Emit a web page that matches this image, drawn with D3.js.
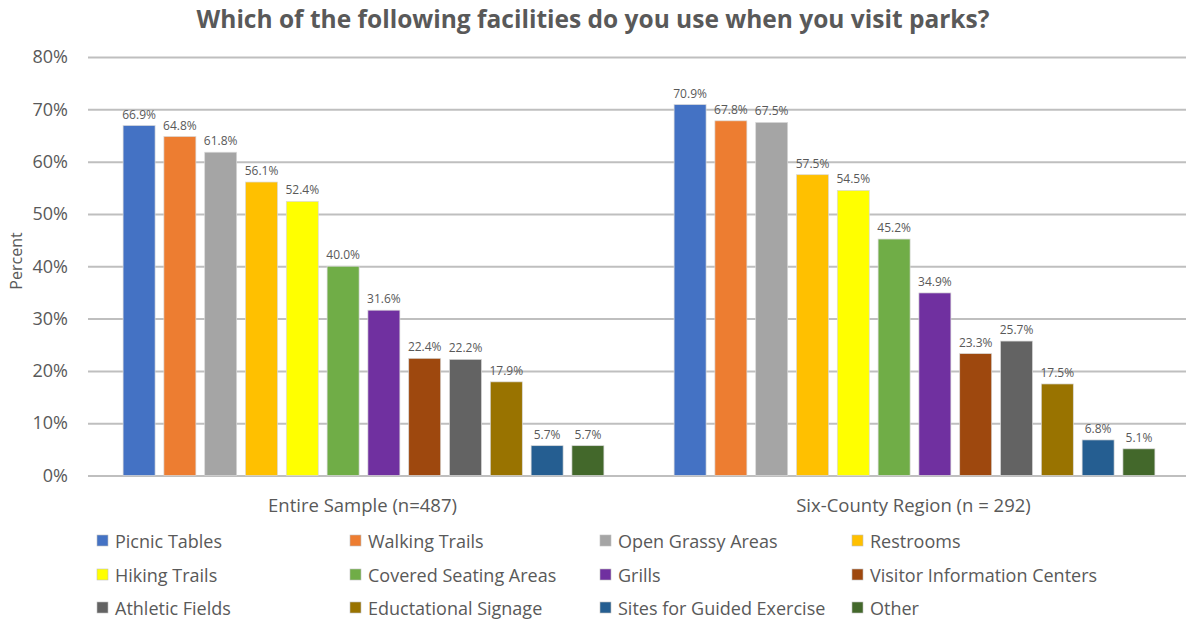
<!DOCTYPE html>
<html>
<head>
<meta charset="utf-8">
<script src="https://cdn.jsdelivr.net/npm/d3@7"></script>
<style>
	body { margin: 0; background: #fff; }
	svg { display: block; font-family: 'Open Sans', 'Noto Sans', sans-serif; }
</style>
</head>
<body>
<div id="chart"></div>
<script>
// chart values
var groups = ['Entire Sample (n=487)', 'Six-County Region (n = 292)'];
var facilities = ['Picnic Tables', 'Walking Trails', 'Open Grassy Areas', 'Restrooms',
	'Hiking Trails', 'Covered Seating Areas', 'Grills', 'Visitor Information Centers',
	'Athletic Fields', 'Eductational Signage', 'Sites for Guided Exercise', 'Other'];
var entireSample = [66.9, 64.8, 61.8, 56.1, 52.4, 40.0, 31.6, 22.4, 22.2, 17.9, 5.7, 5.7];
var sixCounty = [70.9, 67.8, 67.5, 57.5, 54.5, 45.2, 34.9, 23.3, 25.7, 17.5, 6.8, 5.1];
var yTicks = [0, 10, 20, 30, 40, 50, 60, 70, 80];
var colors = ['#4472c4', '#ed7d31', '#a5a5a5', '#ffc000', '#ffff00', '#70ad47',
	'#7030a0', '#9e480e', '#636363', '#997300', '#255e91', '#43682b'];

var fmt = {
	width: 1186,
	height: 621,
	left: 88,
	right: 1190,	// plot area runs past the picture edge, as in the source
	top: 57,
	bottom: 475.5,
	clr_text: '#595959',
	clr_grid: '#bfbfbf'
};

var series = [entireSample, sixCounty];

var svg = d3.select('#chart').append('svg')
	.attr('width', fmt.width)
	.attr('height', fmt.height);

var x0 = d3.scaleBand()
	.domain(groups)
	.range([fmt.left, fmt.right]);
var x1 = d3.scaleBand()
	.domain(facilities)
	.range([0, x0.bandwidth()])
	.paddingInner(0.216)
	.paddingOuter(0.86);
var y = d3.scaleLinear()
	.domain([0, 80])
	.range([fmt.bottom, fmt.top]);
var color = d3.scaleOrdinal().domain(facilities).range(colors);

// title
svg.append('text')
	.attr('x', 593)
	.attr('y', 28)
	.attr('text-anchor', 'middle')
	.style('font-size', '24.5px')
	.style('font-weight', 'bold')
	.style('fill', fmt.clr_text)
	.text('Which of the following facilities do you use when you visit parks?');

// grid + y axis
var yAxis = svg.append('g')
	.attr('class', 'y axis')
	.attr('transform', `translate(${fmt.left},0)`)
	.call(d3.axisLeft(y)
		.tickValues(yTicks)
		.tickSize(-(fmt.right - fmt.left))
		.tickPadding(20)
		.tickFormat(function(d) { return d + '%'; }));
yAxis.select('.domain').remove();
yAxis.selectAll('line')
	.attr('stroke', fmt.clr_grid)
	.attr('stroke-width', 2);
yAxis.selectAll('text')
	.style('font-size', '18px')
	.style('fill', fmt.clr_text)
	.style('font-family', "'Open Sans', sans-serif");

// y title
svg.append('text')
	.attr('transform', 'translate(22,261) rotate(-90)')
	.attr('text-anchor', 'middle')
	.style('font-size', '16px')
	.style('fill', fmt.clr_text)
	.text('Percent');

// bars
var grp = svg.selectAll('g.grp')
	.data(groups)
	.enter().append('g')
	.attr('class', 'grp')
	.attr('transform', function(d) { return `translate(${x0(d)},0)`; });

grp.selectAll('rect')
	.data(function(d, i) {
		return facilities.map(function(f, j) { return {name: f, value: series[i][j]}; });
	})
	.enter().append('rect')
	.attr('x', function(d) { return x1(d.name); })
	.attr('y', function(d) { return y(d.value); })
	.attr('width', x1.bandwidth())
	.attr('height', function(d) { return y(0) - y(d.value); })
	.attr('fill', function(d) { return color(d.name); })
	.attr('stroke', '#d9d9d9')
	.attr('stroke-width', 0.7);

grp.selectAll('text.val')
	.data(function(d, i) {
		return facilities.map(function(f, j) { return {name: f, value: series[i][j]}; });
	})
	.enter().append('text')
	.attr('class', 'val')
	.attr('x', function(d) { return x1(d.name) + x1.bandwidth() / 2; })
	.attr('y', function(d) { return y(d.value) - 7; })
	.attr('text-anchor', 'middle')
	.style('font-size', '12px')
	.style('fill', fmt.clr_text)
	.text(function(d) { return d.value.toFixed(1) + '%'; });

// x category labels
svg.selectAll('text.cat')
	.data(groups)
	.enter().append('text')
	.attr('class', 'cat')
	.attr('x', function(d) { return x0(d) + x0.bandwidth() / 2 - 1; })
	.attr('y', 512)
	.attr('text-anchor', 'middle')
	.style('font-size', '18.5px')
	.style('fill', fmt.clr_text)
	.text(function(d) { return d; });

// legend, 4 columns x 3 rows
var legX = [97, 350, 600, 852];
var legY = [541, 575, 608];
var leg = svg.selectAll('g.leg')
	.data(facilities)
	.enter().append('g')
	.attr('class', 'leg')
	.attr('transform', function(d, i) { return `translate(${legX[i % 4]},${legY[Math.floor(i / 4)]})`; });
leg.append('rect')
	.attr('x', 0)
	.attr('y', -6)
	.attr('width', 11)
	.attr('height', 11)
	.attr('fill', function(d) { return color(d); })
	.attr('stroke', '#bfbfbf')
	.attr('stroke-width', 0.6);
leg.append('text')
	.attr('x', 18)
	.attr('y', 6.5)
	.style('font-size', '18px')
	.style('fill', fmt.clr_text)
	.text(function(d) { return d; });
</script>
</body>
</html>
